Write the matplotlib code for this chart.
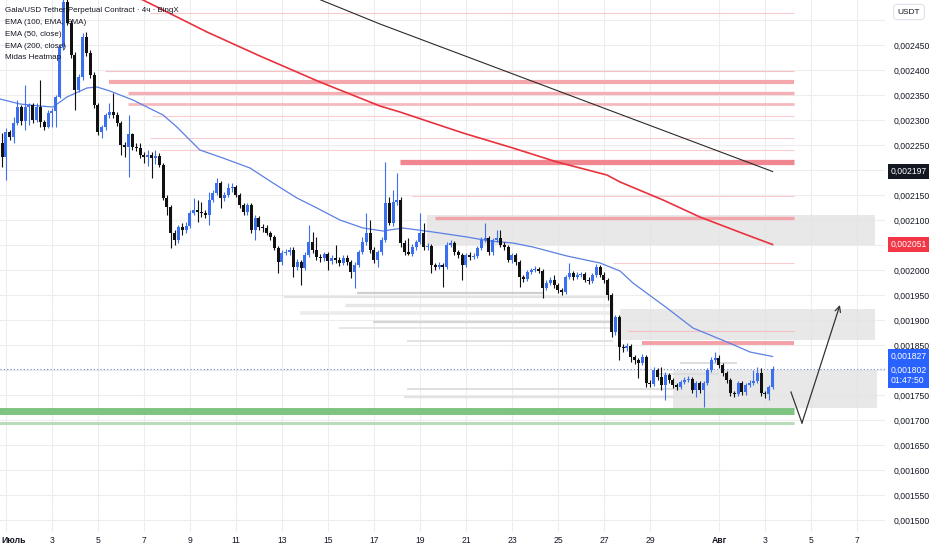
import numpy as np
import matplotlib
matplotlib.use("Agg")
import matplotlib.pyplot as plt
import matplotlib.transforms as mtransforms

# prices are in millionths of USDT (2254 -> 0,002254); time in days from 1 July
first_open = 2254
closes = [2226, 2276, 2266, 2294, 2326, 2298, 2326, 2330, 2300, 2326, 2296, 2286, 2314, 2318, 2346, 2446, 2536,
          2494, 2430, 2360, 2386, 2466, 2434, 2390, 2330, 2276, 2286, 2310, 2316, 2310, 2294, 2250, 2246, 2272,
          2246, 2244, 2230, 2226, 2230, 2224, 2228, 2210, 2144, 2126, 2074, 2060, 2086, 2080, 2088, 2114, 2120,
          2116, 2114, 2110, 2140, 2154, 2174, 2144, 2150, 2164, 2166, 2150, 2130, 2116, 2130, 2080, 2104, 2086,
          2084, 2074, 2066, 2044, 2016, 2034, 2036, 2040, 2006, 2016, 2004, 2030, 2056, 2040, 2026, 2024, 2032,
          2018, 2024, 2020, 2014, 2024, 2016, 1996, 2010, 2036, 2056, 2074, 2040, 2020, 2036, 2060, 2134, 2094,
          2136, 2140, 2054, 2036,
          2032, 2046, 2056, 2074, 2046, 2048, 2010, 2006, 2010, 2006, 2050, 2054, 2036, 2030, 2010, 2030, 2026,
          2028, 2044, 2060, 2064, 2036, 2060, 2064, 2050, 2046, 2020, 2030, 2016, 1986, 1982, 1996, 2000, 2002,
          1998, 1964, 1974, 1980, 1970, 1960, 1956, 1986, 1994, 1986, 1990, 1992, 1980, 1978, 1990, 2006, 1990,
          1980, 1950,
          1876, 1906, 1846, 1844, 1848, 1826, 1820, 1814, 1826, 1774, 1772, 1800, 1786, 1770, 1790, 1780, 1770,
          1766, 1776, 1780, 1782, 1760, 1774, 1760, 1774, 1800, 1820, 1824, 1810, 1794, 1780, 1754, 1752, 1774,
          1756, 1770, 1774, 1778, 1794, 1754, 1752, 1766, 1802]
highs = [2274, 2284, 2280, 2306, 2340, 2330, 2370, 2334, 2334, 2334, 2380, 2300, 2320, 2324, 2350, 2450, 2560,
         2560, 2500, 2436, 2392, 2474, 2476, 2440, 2396, 2334, 2290, 2314, 2334, 2354, 2316, 2298, 2256, 2310,
         2274, 2254, 2254, 2236, 2240, 2236, 2240, 2234, 2214, 2150, 2130, 2080, 2090, 2094, 2096, 2120, 2144,
         2140, 2136, 2120, 2156, 2160, 2184, 2178, 2156, 2174, 2174, 2170, 2154, 2134, 2134, 2134, 2110, 2108,
         2092, 2090, 2078, 2070, 2048, 2040, 2042, 2046, 2046, 2022, 2020, 2036, 2090, 2076, 2066, 2032, 2036,
         2036, 2030, 2050, 2026, 2030, 2030, 2020, 2016, 2040, 2066, 2114, 2100, 2046, 2040, 2066, 2216, 2146,
         2160, 2194, 2146, 2060,
         2064, 2052, 2060, 2114, 2094, 2054, 2052, 2014, 2016, 2014, 2056, 2060, 2058, 2040, 2034, 2034, 2036,
         2034, 2048, 2066, 2094, 2068, 2064, 2080, 2080, 2056, 2050, 2034, 2034, 2020, 1990, 2000, 2004, 2008,
         2006, 2002, 1980, 1986, 1990, 1974, 1964, 1990, 2014, 1998, 1996, 1996, 1996, 1986, 1994, 2012, 2010,
         1996, 1984,
         1954, 1910, 1910, 1852, 1854, 1852, 1830, 1824, 1832, 1830, 1780, 1806, 1804, 1806, 1796, 1794, 1784,
         1774, 1780, 1786, 1788, 1786, 1778, 1778, 1778, 1804, 1826, 1836, 1830, 1814, 1798, 1784, 1758, 1778,
         1778, 1774, 1780, 1800, 1806, 1804, 1758, 1770, 1808]
lows = [2206, 2180, 2260, 2254, 2290, 2290, 2280, 2290, 2294, 2296, 2286, 2280, 2284, 2286, 2286, 2344, 2440,
        2490, 2424, 2320, 2356, 2380, 2428, 2384, 2324, 2270, 2264, 2280, 2304, 2304, 2288, 2230, 2226, 2186,
        2240, 2238, 2224, 2214, 2208, 2184, 2212, 2206, 2140, 2110, 2044, 2050, 2054, 2070, 2074, 2084, 2110,
        2096, 2106, 2104, 2090, 2136, 2150, 2124, 2138, 2146, 2156, 2146, 2124, 2110, 2110, 2074, 2060, 2080,
        2076, 2070, 2060, 2040, 1994, 2010, 2030, 2030, 1986, 2000, 1970, 2000, 2026, 2034, 2020, 2016, 2018,
        2000, 2012, 2014, 2008, 2010, 2010, 1984, 1964, 2006, 2032, 2050, 2034, 2014, 2006, 2030, 2056, 2090,
        2088, 2130, 2046, 2030,
        2030, 2028, 2040, 2052, 2040, 2040, 1994, 2000, 2002, 1966, 2002, 2046, 2030, 2024, 1980, 2006, 2020,
        2022, 2024, 2040, 2056, 2030, 2030, 2056, 2046, 2040, 2016, 2014, 2010, 1966, 1976, 1978, 1992, 1996,
        1994, 1944, 1960, 1970, 1964, 1954, 1950, 1952, 1982, 1980, 1982, 1986, 1976, 1972, 1974, 1986, 1986,
        1974, 1940,
        1866, 1870, 1820, 1836, 1838, 1816, 1812, 1784, 1810, 1766, 1766, 1768, 1780, 1760, 1740, 1774, 1764,
        1760, 1762, 1772, 1776, 1754, 1746, 1754, 1726, 1770, 1796, 1816, 1804, 1788, 1774, 1748, 1746, 1748,
        1750, 1750, 1766, 1770, 1774, 1748, 1744, 1740, 1762]
first_bar_day = -1 / 6   # 4h bars, first one opens 30 June 20:00
bar_days = 1 / 6

ema50_days = [-0.26, 0.61, 1.48, 2.04, 2.65, 3.52, 3.96, 4.52, 5.52, 6.39, 6.83, 7.43, 8.43, 9.43, 10.61, 11.61,
              12.65, 13.52, 14.52, 15.52, 16.39, 17.26, 18.57, 20.04, 21.04, 22.04, 22.91, 24.39, 25.83, 26.7,
              27.26, 28.74, 29.87, 30.61, 31.35, 32.35, 33.33]
ema50_vals = [2342, 2332, 2328, 2326, 2346, 2364, 2366, 2358, 2340, 2320, 2310, 2286, 2240, 2224, 2204, 2174,
              2144, 2124, 2100, 2084, 2078, 2084, 2076, 2066, 2058, 2054, 2046, 2028, 2014, 1998, 1974, 1924,
              1884, 1870, 1856, 1836, 1827]
ema100_days = [5.39, 5.96, 8.74, 11.04, 13.65, 16.26, 17.13, 19.87, 22.04, 23.96, 26.13, 26.7, 28.57, 30.17,
               32.22, 33.33]
ema100_vals = [2550, 2540, 2476, 2428, 2376, 2328, 2316, 2274, 2244, 2216, 2190, 2176, 2140, 2106, 2070, 2051]
ema200_days = [13.48, 16.26, 33.33]
ema200_vals = [2544, 2492, 2197]

# Midas heatmap levels: price, start day, style
red_levels = [2514, 2398, 2376, 2354, 2332, 2308, 2264, 2240, 2216, 2148, 2104, 2014, 1878, 1854]
red_starts = [6.26, 4.3, 4.48, 5.3, 5.3, 6.35, 6.26, 6.7, 17.13, 17.65, 18.65, 26.39, 27.0, 27.65]
red_widths = [0.8, 0.8, 3.0, 2.4, 2.0, 0.8, 0.8, 0.8, 3.8, 0.8, 2.4, 0.8, 0.8, 2.8]
red_colors = ['#f8c9cc', '#f6c0c4', '#f4a7ad', '#f5b0b5', '#f6b9bd', '#f8cbce', '#f8cbce', '#f8cbce',
              '#f08690', '#f8cbce', '#f3a3aa', '#f8cbce', '#f6c0c4', '#f4a0a7']
levels_end = 34.26

gray_levels = [1954, 1946, 1930, 1914, 1896, 1884, 1858, 1814, 1792, 1762, 1746]
gray_starts = [15.26, 12.1, 14.74, 12.8, 15.96, 14.5, 17.43, 29.3, 28.4, 17.43, 17.3]
gray_ends = [23.35, 26.39, 26.39, 26.39, 26.39, 26.39, 26.39, 31.8, 31.0, 29.3, 30.2]
gray_widths = [1.6, 1.6, 2.4, 2.6, 1.6, 1.2, 1.2, 1.2, 1.2, 1.2, 1.6]
gray_colors = ['#cfcfcf', '#e4e4e4', '#e6e6e6', '#ececec', '#d6d6d6', '#e2e2e2', '#dedede', '#d8d8d8',
               '#dddddd', '#d9d9d9', '#e2e2e2']

zones = [(18.3, 37.8, 2050, 2110), (26.7, 37.8, 1860, 1922), (29.0, 37.87, 1724, 1800)]

green_levels = [1719, 1695]
arrow_days = [34.13, 34.61, 36.26]
arrow_vals = [1756, 1694, 1930]

last_price = 1802
price_ticks = list(range(1500, 2501, 50))
hidden_price_labels = [2500, 2200, 2050, 1800]   # covered by the USDT box and price tags
day_ticks = [0, 2, 4, 6, 8, 10, 12, 14, 16, 18, 20, 22, 24, 26, 28, 31, 33, 35, 37]
day_labels = ['Июль', '3', '5', '7', '9', '11', '13', '15', '17', '19', '21', '23', '25', '27', '29',
              'Авг', '3', '5', '7']

plt.rcParams['font.family'] = ['Liberation Sans', 'DejaVu Sans']

fig = plt.figure(figsize=(9.32, 5.5), dpi=100)
ax = fig.add_axes([0, 18 / 550, 885 / 932, 532 / 550])
ax.set_xlim(-0.26, 38.22)
ax.set_ylim(1476, 2540)
for s in ax.spines.values():
    s.set_visible(False)

ax.set_yticks(price_ticks)
ax.set_yticklabels(['' if v in hidden_price_labels else '0,%06d' % v for v in price_ticks])
ax.yaxis.tick_right()
ax.tick_params(axis='y', length=0, pad=6, labelsize=6.2, labelcolor='#131722')
ax.set_xticks(day_ticks)
ax.set_xticklabels(day_labels)
ax.tick_params(axis='x', length=0, pad=3, labelsize=6.2, labelcolor='#131722')
shift = mtransforms.ScaledTranslation(-5 / 100, 0, fig.dpi_scale_trans)
for lbl in ax.get_xticklabels():
    if lbl.get_text() in ('Июль', 'Авг'):
        lbl.set_fontweight('bold')
    if lbl.get_text() == 'Июль':
        lbl.set_horizontalalignment('left')
        lbl.set_transform(lbl.get_transform() + shift)
ax.grid(True, color='#ededed', lw=0.8, zorder=0)
ax.set_axisbelow(True)

# zones and heatmap levels
for x0, x1, y0, y1 in zones:
    ax.fill_between([x0, x1], y0, y1, color='#e4e4e4', alpha=0.85, lw=0, zorder=1)
for lv, st, en, w, c in zip(gray_levels, gray_starts, gray_ends, gray_widths, gray_colors):
    ax.plot([st, en], [lv, lv], color=c, lw=w, solid_capstyle='butt', zorder=1.2)
for lv, st, w, c in zip(red_levels, red_starts, red_widths, red_colors):
    ax.plot([st, levels_end], [lv, lv], color=c, lw=w, solid_capstyle='butt', zorder=1.5)
ax.plot([-0.3, levels_end], [green_levels[0]] * 2, color='#7ec480', lw=5.0, solid_capstyle='butt', zorder=1.5)
ax.plot([-0.3, levels_end], [green_levels[1]] * 2, color='#b8dbb9', lw=2.2, solid_capstyle='butt', zorder=1.5)

ax.axhline(last_price, color='#6f86d8', lw=0.8, ls=(0, (1, 2)), zorder=1.6)

# moving averages
ax.plot(ema200_days, ema200_vals, color='#2a2a2a', lw=0.8, zorder=2)
ax.plot(ema100_days, ema100_vals, color='#e8323e', lw=1.2, zorder=2)
ax.plot(ema50_days, ema50_vals, color='#5b80e3', lw=0.9, zorder=2)

# candles
c = np.array(closes)
o = np.concatenate([[first_open], c[:-1]])
h = np.array(highs)
l = np.array(lows)
t = first_bar_day + bar_days * np.arange(len(c))
up = c >= o
cols = np.where(up, '#3c6ff0', '#111111')
ax.vlines(t, l, h, colors=cols, lw=0.8, zorder=3)
body = np.maximum(np.abs(c - o), 1.6)
ax.bar(t, body, bottom=np.minimum(o, c), width=0.13, color=cols, lw=0, zorder=3.1)

# hand-drawn projection
ax.plot(arrow_days[:2], arrow_vals[:2], color='#333333', lw=0.9, zorder=4)
ax.annotate('', xy=(arrow_days[2], arrow_vals[2]), xytext=(arrow_days[1], arrow_vals[1]),
            arrowprops=dict(arrowstyle='->', color='#333333', lw=0.9, shrinkA=0, shrinkB=0), zorder=4)

# price tags on the scale
trans = mtransforms.blended_transform_factory(ax.transAxes, ax.transData)
tags = [(2197, '0,002197', '#131722'), (2051, '0,002051', '#f23645'),
        (1827, '0,001827', '#2962ff'), (1802, '0,001802\n01:47:50', '#2962ff')]
for v, txt, fc in tags:
    yy = v if '\n' not in txt else v - 13
    ax.text(1.006, yy, txt, transform=trans, ha='left', va='center', fontsize=6.2, color='white',
            linespacing=1.25, bbox=dict(boxstyle='square,pad=0.3', fc=fc, ec='none'), zorder=6, clip_on=False)

fig.text(909 / 932, 1 - 12 / 550, 'USDT', ha='center', va='center', fontsize=6, color='#131722',
         bbox=dict(boxstyle='round,pad=0.5', fc='white', ec='#dfe2ea', lw=0.8))

legend_lines = ['Gala/USD Tether Perpetual Contract · 4ч · BingX', 'EMA (100, EMA, EMA)', 'EMA (50, close)',
                'EMA (200, close)', 'Midas Heatmap']
for k, txt in enumerate(legend_lines):
    fig.text(5 / 932, 1 - (11 + 11.7 * k) / 550, txt, ha='left', va='center', fontsize=5.8, color='#131722',
             zorder=10)

fig.savefig('out.png', dpi=100)
